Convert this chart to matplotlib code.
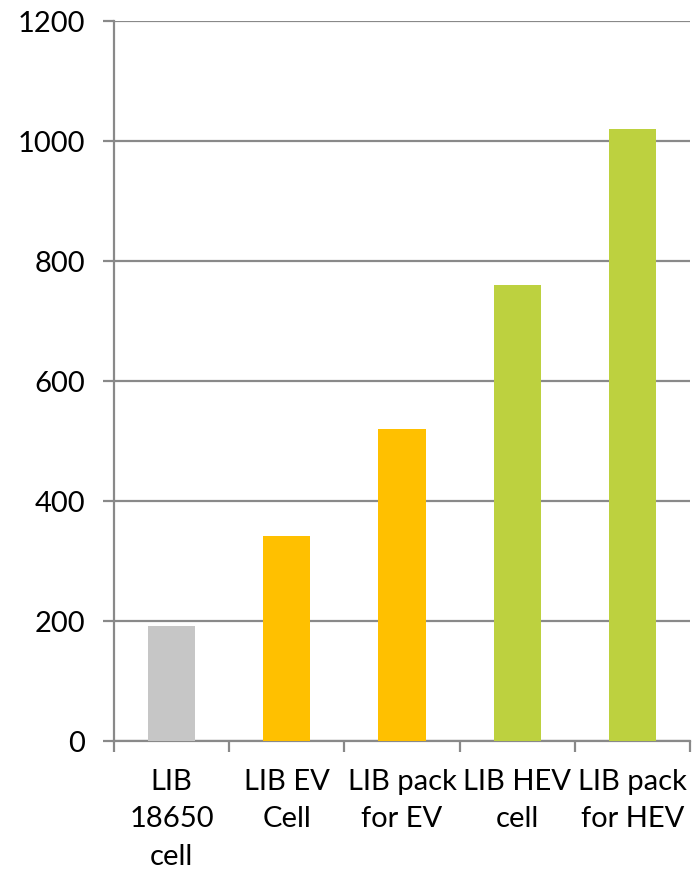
import matplotlib
matplotlib.use("Agg")
import matplotlib.pyplot as plt
from matplotlib.ticker import FixedLocator

categories = ["LIB\n18650\ncell", "LIB EV\nCell", "LIB pack\nfor EV", "LIB HEV\ncell", "LIB pack\nfor HEV"]
values = [191, 341, 520, 760, 1020]
colors = ["#C6C6C6", "#FFC000", "#FFC000", "#BDD13F", "#BDD13F"]
yticks = [0, 200, 400, 600, 800, 1000, 1200]

plt.rcParams['font.family'] = ['Lato', 'DejaVu Sans']

fig = plt.figure(figsize=(7.0, 8.72), dpi=100)
ax = fig.add_axes([114/700, 131/872, 576/700, 720/872])

x = list(range(len(categories)))
ax.bar(x, values, width=0.41, color=colors, zorder=3)

ax.set_xlim(-0.5, len(categories) - 0.5)
ax.set_ylim(0, 1200)
ax.set_yticks(yticks)
ax.set_yticklabels([str(v) for v in yticks], fontsize=21)
ax.yaxis.grid(True, color="#898989", linewidth=1.6, zorder=0)
ax.set_axisbelow(True)

ax.set_xticks(x)
ax.set_xticklabels(categories, fontsize=21, linespacing=1.55)
ax.xaxis.set_minor_locator(FixedLocator([i - 0.5 for i in range(len(categories) + 1)]))
ax.tick_params(axis='x', which='major', length=0, pad=20)
ax.tick_params(axis='x', which='minor', length=8, width=1.6, color="#898989", direction='out')
ax.tick_params(axis='y', length=8, width=1.6, color="#898989", pad=13)

for s in ['top', 'right']:
    ax.spines[s].set_visible(False)
for s in ['left', 'bottom']:
    ax.spines[s].set_color("#898989")
    ax.spines[s].set_linewidth(1.6)

fig.savefig("out.png", dpi=100)
